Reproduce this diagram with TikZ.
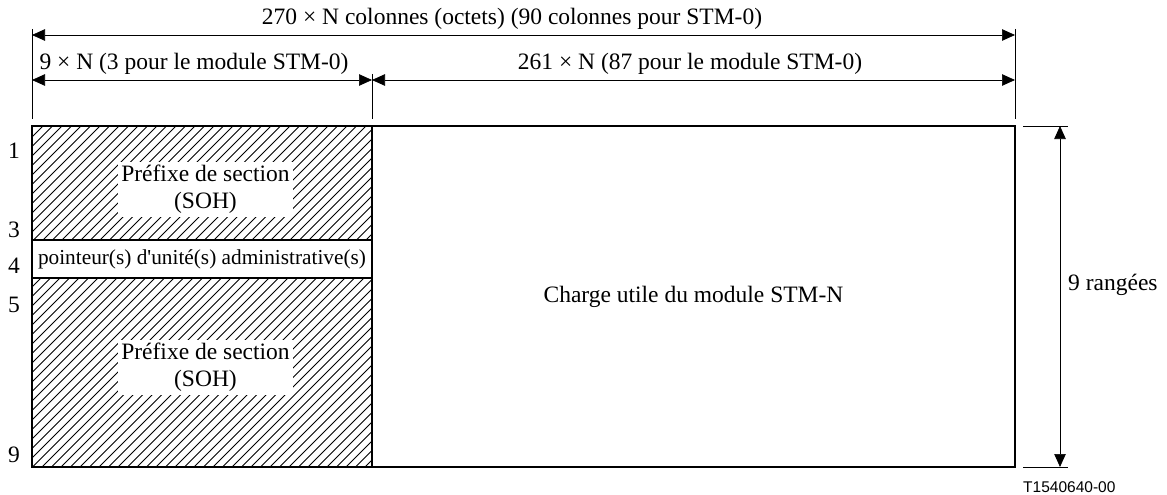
\documentclass[tikz,border=0pt]{standalone}
\usepackage{fontspec}
\setmainfont{Liberation Serif}[Ligatures=TeXOff]
\newfontfamily\labelsans{Liberation Sans}
\usetikzlibrary{arrows.meta}
\begin{document}
\begin{tikzpicture}[x=1pt,y=-1pt,
  font=\fontsize{23.5}{27}\selectfont,
  dim/.style={line width=0.7pt,{Triangle[length=13pt,width=11.5pt]}-{Triangle[length=13pt,width=11.5pt]}},
  ext/.style={line width=0.6pt},
  region/.style={draw, line width=1.2pt, anchor=north west, inner sep=0pt, outer sep=0pt},
  hatchline/.style={line width=0.9pt},
  lbl/.style={fill=white, inner sep=0pt, minimum width=175pt, minimum height=55pt, align=center},
  txt/.style={anchor=base, inner sep=0pt},
  rownum/.style={anchor=base, inner sep=0pt}]
\useasboundingbox (0,0) rectangle (1167,495);

% regions
\node[region, minimum width=340pt, minimum height=114pt] (soh1) at (32,126) {};
\node[region, minimum width=340pt, minimum height=38pt, font=\fontsize{21.3}{24}\selectfont] (ptr) at (32,240) {pointeur(s) d'unité(s) administrative(s)};
\node[region, minimum width=340pt, minimum height=189pt] (soh2) at (32,278) {};
\node[region, minimum width=643pt, minimum height=341pt] (pay) at (372,126) {Charge utile du module STM-N};

% hatching
\begin{scope}
  \clip (soh1.north west) rectangle (soh1.south east);
  \foreach \c in {150,159.5,...,640} \draw[hatchline] (\c-300,300) -- (\c-100,100);
\end{scope}
\begin{scope}
  \clip (soh2.north west) rectangle (soh2.south east);
  \foreach \c in {300,309.5,...,860} \draw[hatchline] (\c-500,500) -- (\c-250,250);
\end{scope}
\draw[line width=1.2pt] (soh1.north west) rectangle (soh1.south east);
\draw[line width=1.2pt] (soh2.north west) rectangle (soh2.south east);

\node[lbl] (t1) at (205.5,189.5) {Préfixe de section\\(SOH)};
\node[lbl] (t2) at (205.5,367.5) {Préfixe de section\\(SOH)};

% row numbers
\node[rownum] (r1) at (14,158) {1};
\node[rownum] (r3) at (14,237) {3};
\node[rownum] (r4) at (14,273) {4};
\node[rownum] (r5) at (14,312) {5};
\node[rownum] (r9) at (14,462) {9};

% extension lines
\coordinate (xlt) at (32,29);   \coordinate (xlb) at (32,119);
\coordinate (xmt) at (372,74);  \coordinate (xmb) at (372,119);
\coordinate (xrt) at (1015,29); \coordinate (xrb) at (1015,119);
\draw[ext] (xlt) -- (xlb);
\draw[ext] (xmt) -- (xmb);
\draw[ext] (xrt) -- (xrb);

% horizontal dimensions
\coordinate (a1l) at (32,35);  \coordinate (a1r) at (1015,35);
\coordinate (a2l) at (32,80);  \coordinate (a2m) at (372,80); \coordinate (a2r) at (1015,80);
\draw[dim] (a1l) -- (a1r);
\draw[dim] (a2l) -- (a2m);
\draw[dim] (a2m) -- (a2r);
\node[txt] (d1) at (512,25) {270 × N colonnes (octets) (90 colonnes pour STM-0)};
\node[txt] (d2) at (194,70) {9 × N (3 pour le module STM-0)};
\node[txt] (d3) at (690,70) {261 × N (87 pour le module STM-0)};

% vertical dimension
\coordinate (vtl) at (1023,126); \coordinate (vtr) at (1068,126);
\coordinate (vbl) at (1023,467); \coordinate (vbr) at (1068,467);
\coordinate (vt) at (1060,126);  \coordinate (vb) at (1060,467);
\draw[ext] (vtl) -- (vtr);
\draw[ext] (vbl) -- (vbr);
\draw[dim] (vt) -- (vb);
\node[txt, anchor=base west] (rg) at (1068,290) {9 rangées};

\node[anchor=base west, inner sep=0pt, font=\labelsans\fontsize{15.5}{18}\selectfont] (ref) at (1023,492) {T1540640-00};
\end{tikzpicture}
\end{document}
